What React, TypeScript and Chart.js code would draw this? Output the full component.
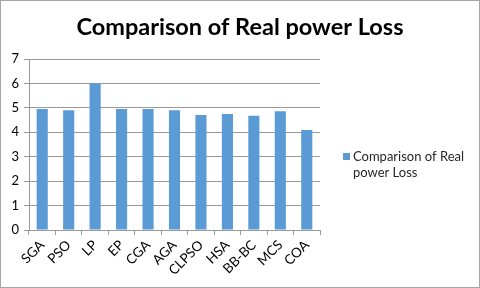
import React, { useEffect, useRef } from "react";
import { Chart, registerables } from "chart.js";

Chart.register(...registerables);

const categories = ["SGA", "PSO", "LP", "EP", "CGA", "AGA", "CLPSO", "HSA", "BB-BC", "MCS", "COA"];
const lossValues = [4.95, 4.9, 6.0, 4.95, 4.95, 4.9, 4.71, 4.75, 4.68, 4.86, 4.09];
const seriesName = "Comparison of Real power Loss";
const legendLines = ["Comparison of Real", "power Loss"];
const chartTitle = "Comparison of Real power Loss";

const FONT = "Lato, 'DejaVu Sans', sans-serif";

const decorPlugin = {
  id: "decor",
  beforeDraw(chart: any) {
    const ctx = chart.ctx;
    ctx.save();
    ctx.fillStyle = "#ffffff";
    ctx.fillRect(0, 0, chart.width, chart.height);
    ctx.restore();
  },
  afterDraw(chart: any) {
    const ctx = chart.ctx;
    ctx.save();
    // border
    ctx.strokeStyle = "#a6a6a6";
    ctx.lineWidth = 1;
    ctx.strokeRect(0.5, 0.5, chart.width - 1, chart.height - 1);
    // title
    ctx.fillStyle = "#000000";
    ctx.font = `bold 23.5px ${FONT}`;
    ctx.textAlign = "center";
    ctx.textBaseline = "alphabetic";
    ctx.fillText(chartTitle, 240, 35);
    // legend
    ctx.fillStyle = "#5B9BD5";
    ctx.fillRect(343, 153, 7, 7);
    ctx.fillStyle = "#262626";
    ctx.font = `13px ${FONT}`;
    ctx.textAlign = "left";
    ctx.fillText(legendLines[0], 353, 161);
    ctx.fillText(legendLines[1], 353, 177);
    ctx.restore();
  },
};

export default function App() {
  const ref = useRef<HTMLCanvasElement>(null);
  useEffect(() => {
    document.body.style.margin = "0";
    const chart = new Chart(ref.current!, {
      type: "bar",
      data: {
        labels: categories,
        datasets: [
          {
            label: seriesName,
            data: lossValues,
            backgroundColor: "#5B9BD5",
            borderWidth: 0,
            categoryPercentage: 1,
            barPercentage: 0.42,
          },
        ],
      },
      options: {
        animation: false,
        responsive: false,
        maintainAspectRatio: false,
        layout: { padding: { top: 59, left: 0, right: 160, bottom: 0 } },
        plugins: {
          legend: { display: false },
          title: { display: false },
          tooltip: { enabled: false },
        },
        scales: {
          x: {
            afterFit: (s: any) => {
              s.height = 58;
            },
            grid: {
              drawOnChartArea: false,
              drawTicks: true,
              tickLength: 5,
              color: "#999999",
              offset: true,
            },
            border: { color: "#999999" },
            ticks: {
              maxRotation: 45,
              minRotation: 45,
              autoSkip: false,
              color: "#000000",
              padding: 2,
              font: { family: FONT, size: 13.5 },
            },
          },
          y: {
            min: 0,
            max: 7,
            afterFit: (s: any) => {
              s.width = 29;
            },
            grid: {
              color: "#999999",
              tickLength: 5,
            },
            border: { color: "#999999" },
            ticks: {
              stepSize: 1,
              color: "#000000",
              padding: 5,
              font: { family: FONT, size: 13 },
            },
          },
        },
      },
      plugins: [decorPlugin],
    });
    return () => chart.destroy();
  }, []);
  return (
    <div style={{ width: 480, height: 288 }}>
      <canvas ref={ref} width={480} height={288} />
    </div>
  );
}
